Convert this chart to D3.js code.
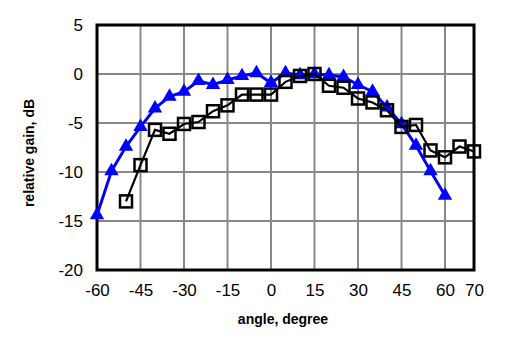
<!DOCTYPE html>
<html>
<head>
<meta charset="utf-8">
<script src="https://cdn.jsdelivr.net/npm/d3@7"></script>
<style>
  body { margin: 0; background: #fff; }
  text { font-family: "Liberation Sans", Arial, sans-serif; }
</style>
</head>
<body>
<div id="chart"></div>
<script>
var blueAngles = [-60, -55, -50, -45, -40, -35, -30, -25, -20, -15, -10, -5, 0, 5, 10, 15, 20, 25, 30, 35, 40, 45, 50, 55, 60];
var blueGain   = [-14.4, -9.9, -7.4, -5.4, -3.5, -2.3, -1.8, -0.7, -1.1, -0.6, -0.2, 0.1, -0.9, 0.1, -0.1, 0, -0.1, -0.3, -1.1, -1.8, -3.4, -5.1, -7.3, -9.9, -12.4];
var blackAngles = [-50, -45, -40, -35, -30, -25, -20, -15, -10, -5, 0, 5, 10, 15, 20, 25, 30, 35, 40, 45, 50, 55, 60, 65, 70];
var blackGain   = [-13.0, -9.3, -5.7, -6.1, -5.1, -4.9, -3.8, -3.2, -2.1, -2.1, -2.1, -0.8, -0.2, 0, -1.2, -1.4, -2.5, -2.9, -3.7, -5.4, -5.2, -7.8, -8.5, -7.4, -7.9];
var xTicks = [-60, -45, -30, -15, 0, 15, 30, 45, 60, 70];
var yTicks = [5, 0, -5, -10, -15, -20];

var width = 520, height = 354;
var plotLeft = 97, plotRight = 474, plotTop = 25, plotBottom = 270;

var svg = d3.select("#chart").append("svg")
    .attr("width", width)
    .attr("height", height);

var x = d3.scaleLinear().domain([-60, 70]).range([plotLeft, plotRight]);
var y = d3.scaleLinear().domain([-20, 5]).range([plotBottom, plotTop]);

// grid
svg.append("g").selectAll("line")
    .data(xTicks.slice(1, -1))
    .enter().append("line")
    .attr("x1", function (d) { return x(d); })
    .attr("x2", function (d) { return x(d); })
    .attr("y1", plotTop).attr("y2", plotBottom)
    .attr("stroke", "#888").attr("stroke-width", 2);

svg.append("g").selectAll("line")
    .data(yTicks.slice(1, -1))
    .enter().append("line")
    .attr("x1", plotLeft).attr("x2", plotRight)
    .attr("y1", function (d) { return y(d); })
    .attr("y2", function (d) { return y(d); })
    .attr("stroke", "#888").attr("stroke-width", 2);

// tick labels (plain hyphen minus, like the original)
var fmt = function (d) { return String(d); };

var xAxis = d3.axisBottom(x).tickValues(xTicks).tickFormat(fmt).tickSize(0).tickPadding(14);
var gx = svg.append("g").attr("transform", "translate(0," + plotBottom + ")").call(xAxis);
gx.select(".domain").remove();
gx.selectAll("text").attr("font-size", 17).attr("fill", "#000")
    .style("font-family", "Liberation Sans, Arial, sans-serif");

var yAxis = d3.axisLeft(y).tickValues(yTicks).tickFormat(fmt).tickSize(0).tickPadding(14);
var gy = svg.append("g").attr("transform", "translate(" + plotLeft + ",0)").call(yAxis);
gy.select(".domain").remove();
gy.selectAll("text").attr("font-size", 17).attr("fill", "#000")
    .style("font-family", "Liberation Sans, Arial, sans-serif");

// frame
svg.append("rect")
    .attr("x", plotLeft).attr("y", plotTop)
    .attr("width", plotRight - plotLeft).attr("height", plotBottom - plotTop)
    .attr("fill", "none").attr("stroke", "#000").attr("stroke-width", 3);

var line = d3.line().x(function (d) { return x(d[0]); }).y(function (d) { return y(d[1]); });

// blue series
var blueData = blueAngles.map(function (a, i) { return [a, blueGain[i]]; });

svg.append("path").datum(blueData)
    .attr("d", line).attr("fill", "none")
    .attr("stroke", "#0000ff").attr("stroke-width", 3);

svg.append("g").selectAll("path")
    .data(blueData).enter().append("path")
    .attr("d", d3.symbol().type(d3.symbolTriangle).size(90))
    .attr("transform", function (d) { return "translate(" + x(d[0]) + "," + y(d[1]) + ")"; })
    .attr("fill", "#0000ff");

// black series, hollow squares (line shows through)
var blackData = blackAngles.map(function (a, i) { return [a, blackGain[i]]; });

svg.append("path").datum(blackData)
    .attr("d", line).attr("fill", "none")
    .attr("stroke", "#000").attr("stroke-width", 2.2);

svg.append("g").selectAll("rect")
    .data(blackData).enter().append("rect")
    .attr("x", function (d) { return x(d[0]) - 6; })
    .attr("y", function (d) { return y(d[1]) - 6; })
    .attr("width", 12).attr("height", 12)
    .attr("fill", "none").attr("stroke", "#000").attr("stroke-width", 2.5);

// axis titles
svg.append("text")
    .attr("x", 283).attr("y", 324)
    .attr("text-anchor", "middle")
    .attr("font-size", 14).attr("font-weight", "bold")
    .text("angle, degree");

svg.append("text")
    .attr("transform", "translate(34,153) rotate(-90)")
    .attr("text-anchor", "middle")
    .attr("font-size", 14).attr("font-weight", "bold")
    .text("relative gain, dB");
</script>
</body>
</html>
